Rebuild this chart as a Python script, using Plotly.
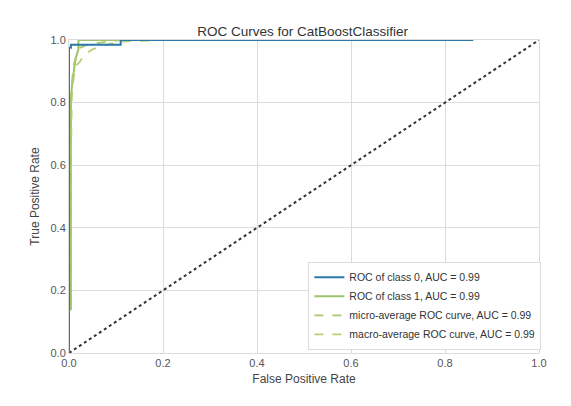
import plotly.graph_objects as go

# data
fpr0 = [0.0, 0.0, 0.004, 0.004, 0.11, 0.11, 0.86]
tpr0 = [0.0, 0.975, 0.975, 0.985, 0.985, 1.0, 1.0]

fpr1 = [0.0, 0.0, 0.004, 0.004, 0.006, 0.008, 0.010, 0.012, 0.014, 0.016, 0.018, 0.020, 0.020, 0.86]
tpr1 = [0.0, 0.14, 0.14, 0.80, 0.85, 0.88, 0.90, 0.92, 0.94, 0.95, 0.96, 0.97, 1.0, 1.0]

fpr_micro = [0.0, 0.0, 0.004, 0.006, 0.010, 0.016, 0.023, 0.04, 0.06, 0.11, 0.2, 0.86]
tpr_micro = [0.0, 0.14, 0.80, 0.86, 0.92, 0.95, 0.975, 0.985, 0.99, 1.0, 1.0, 1.0]

fpr_macro = [0.0, 0.0, 0.006, 0.010, 0.016, 0.023, 0.03, 0.05, 0.08, 0.11, 0.2, 0.86]
tpr_macro = [0.0, 0.14, 0.82, 0.88, 0.92, 0.93, 0.95, 0.97, 0.985, 0.995, 1.0, 1.0]

diag = [0.0, 1.0]

labels = ["ROC of class 0, AUC = 0.99", "ROC of class 1, AUC = 0.99",
          "micro-average ROC curve, AUC = 0.99", "macro-average ROC curve, AUC = 0.99"]

fig = go.Figure()
fig.add_trace(go.Scatter(x=diag, y=diag, mode="lines", showlegend=False,
                         line=dict(color="#333333", width=2, dash="dot")))
fig.add_trace(go.Scatter(x=fpr1, y=tpr1, mode="lines", name=labels[1],
                         line=dict(color="#9cc46b", width=2), legendrank=2))
fig.add_trace(go.Scatter(x=fpr_macro, y=tpr_macro, mode="lines", name=labels[3],
                         line=dict(color="#b9cf78", width=1.8, dash="dash"), legendrank=4))
fig.add_trace(go.Scatter(x=fpr_micro, y=tpr_micro, mode="lines", name=labels[2],
                         line=dict(color="#a8c870", width=1.8, dash="dash"), legendrank=3))
fig.add_trace(go.Scatter(x=fpr0, y=tpr0, mode="lines", name=labels[0],
                         line=dict(color="#2a79a8", width=2), legendrank=1))

font = "Liberation Sans, Arial, sans-serif"
axis_common = dict(range=[0, 1], dtick=0.2, tickformat=".1f", showgrid=True,
                   gridcolor="#dcdcdc", gridwidth=1, zeroline=False,
                   showline=True, linecolor="#dcdcdc", mirror=True,
                   ticks="", tickfont=dict(size=11, color="#555555", family=font))
fig.update_layout(
    width=571, height=406,
    margin=dict(l=69, r=32, t=40, b=53),
    paper_bgcolor="white", plot_bgcolor="white",
    title=dict(text="ROC Curves for CatBoostClassifier", x=0.53, xanchor="center",
               y=1 - 31 / 406, yanchor="middle",
               font=dict(size=13.5, color="#333333", family=font)),
    xaxis=dict(**axis_common, title=dict(text="False Positive Rate", standoff=6,
                                         font=dict(size=12, color="#444444", family=font))),
    yaxis=dict(**axis_common, title=dict(text="True Positive Rate", standoff=8,
                                         font=dict(size=12, color="#444444", family=font))),
    legend=dict(x=1.005, xanchor="right", y=0.01, yanchor="bottom",
                bgcolor="white", bordercolor="#dcdcdc", borderwidth=1,
                font=dict(size=10.5, color="#333333", family=font),
                tracegroupgap=0, itemwidth=30),
)
fig.write_html("out.html")
